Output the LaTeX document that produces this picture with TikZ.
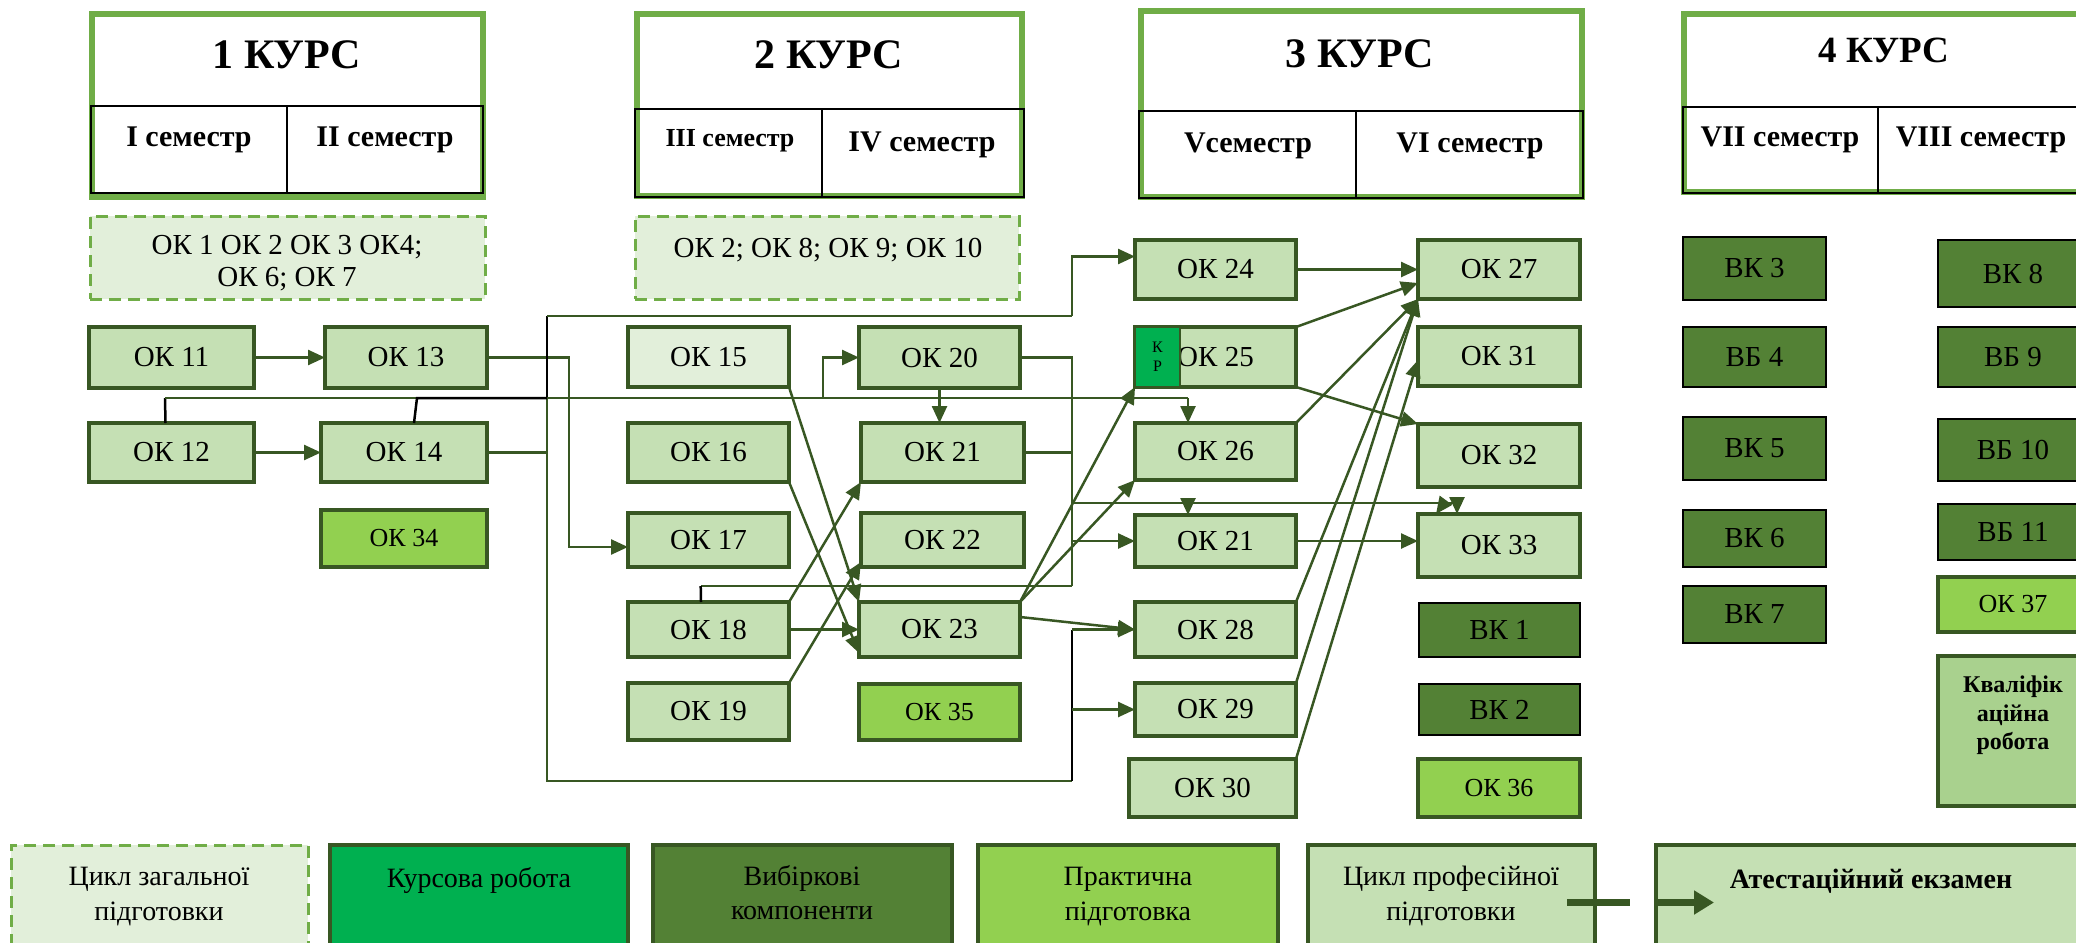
\documentclass[tikz,border=0pt]{standalone}
\usepackage{fontspec}
\setmainfont{Liberation Serif}
\usetikzlibrary{arrows.meta,calc}
\definecolor{okfill}{HTML}{C5E0B4}
\definecolor{dk}{HTML}{385723}
\definecolor{hdr}{HTML}{70AD47}
\definecolor{genfill}{HTML}{E2EFDA}
\definecolor{gendraw}{HTML}{70AD47}
\definecolor{vkfill}{HTML}{538135}
\definecolor{prfill}{HTML}{92D050}
\definecolor{krfill}{HTML}{00B050}
\definecolor{qwfill}{HTML}{A9D18E}
\newcommand{\okfont}{\fontsize{29}{33}\selectfont}
\newcommand{\lgfont}{\fontsize{28}{32}\selectfont}
\newcommand{\prfont}{\fontsize{26}{30}\selectfont}
\newcommand{\krfont}{\fontsize{16}{19}\selectfont}
\newcommand{\ttlfont}{\fontsize{42}{48}\selectfont\bfseries}
\newcommand{\ttlfontb}{\fontsize{37}{42}\selectfont\bfseries}
\newcommand{\semfont}{\fontsize{30}{34}\selectfont\bfseries}
\newcommand{\semfontb}{\fontsize{26}{30}\selectfont\bfseries}
\newcommand{\qwfont}{\fontsize{24}{28.5}\selectfont\bfseries}
\newcommand{\bxat}[7]{\node[#1, minimum width={#5-#3}, minimum height={#6-#4}] (#2) at ({(#3+#5)/2},{(#4+#6)/2}) {#7};}
\begin{document}
\begin{tikzpicture}[x=1pt,y=-1pt,
 every node/.style={inner sep=0pt, outer sep=0pt},
 okbox/.style={draw=dk, line width=4pt, fill=okfill, font=\okfont},
 lightbox/.style={okbox, fill=genfill},
 prbox/.style={okbox, fill=prfill, font=\prfont},
 vkbox/.style={draw=black, line width=2pt, fill=vkfill, font=\okfont},
 krbox/.style={draw=dk, line width=2pt, fill=krfill, font=\krfont, align=center},
 qwbox/.style={draw=dk, line width=4pt, fill=qwfill},
 genbox/.style={draw=gendraw, fill=genfill, line width=3pt, dash pattern=on 12pt off 7pt},
 hdrbox/.style={draw=hdr, fill=white, line width=6pt},
 semcell/.style={draw=black, line width=2pt},
 lgbox/.style={draw=dk, line width=4pt},
 con/.style={draw=dk, line width=2.5pt},
 arr/.style={con, -{Triangle[length=17pt,width=15pt]}},
 blk/.style={draw=black, line width=2.5pt},
 txt/.style={anchor=base, font=\okfont},
 ltx/.style={anchor=base, font=\lgfont},
]
\useasboundingbox (0,0) rectangle (2076,942);
\clip (0,0) rectangle (2076,942);

% ---------- headers ----------
\bxat{hdrbox}{h1}{92}{14}{483}{197}{}
\bxat{semcell}{s1}{91}{106}{286.5}{193}{}
\bxat{semcell}{s2}{286.5}{106}{483}{193}{}
\node[anchor=base, font=\ttlfont] (t1) at (287,68) {1 КУРС};
\node[anchor=base, font=\semfont] (l1) at (189,146) {I семестр};
\node[anchor=base, font=\semfont] (l2) at (385,146) {II семестр};

\bxat{hdrbox}{h2}{637}{14}{1022}{196}{}
\bxat{semcell}{s3}{635}{109}{822}{197}{}
\bxat{semcell}{s4}{822}{109}{1024}{197}{}
\node[anchor=base, font=\ttlfont] (t2) at (829,68) {2 КУРС};
\node[anchor=base, font=\semfontb] (l3) at (730,146) {III семестр};
\node[anchor=base, font=\semfont] (l4) at (922,151) {IV семестр};

\bxat{hdrbox}{h3}{1141}{11}{1582}{197}{}
\bxat{semcell}{s5}{1139}{111}{1356}{198}{}
\bxat{semcell}{s6}{1356}{111}{1583}{198}{}
\node[anchor=base, font=\ttlfont] (t3) at (1360,67) {3 КУРС};
\node[anchor=base, font=\semfont] (l5) at (1248,152) {Vсеместр};
\node[anchor=base, font=\semfont] (l6) at (1470,152) {VI семестр};

\bxat{hdrbox}{h4}{1684}{14}{2090}{192}{}
\bxat{semcell}{s7}{1683}{107}{1878}{193}{}
\bxat{semcell}{s8}{1878}{107}{2090}{193}{}
\node[anchor=base, font=\ttlfontb] (t4) at (1884,63) {4 КУРС};
\node[anchor=base, font=\semfont] (l7) at (1780,146) {VII семестр};
\node[anchor=base, font=\semfont] (l8) at (1981,146) {VIII семестр};

% ---------- general cycle boxes ----------
\bxat{genbox}{g1}{90}{216}{485}{299}{}
\node[txt] (g1a) at (287,254) {ОК 1 ОК 2 ОК 3 ОК4;};
\node[txt] (g1b) at (287,286) {ОК 6; ОК 7};
\bxat{genbox}{g2}{635}{216}{1019}{299}{}
\node[txt] (g2a) at (828,257) {ОК 2; ОК 8; ОК 9; ОК 10};

% ---------- course boxes ----------
\bxat{okbox}{ok11}{89}{327}{254}{388}{ОК 11}
\bxat{okbox}{ok12}{89}{423}{254}{482}{ОК 12}
\bxat{okbox}{ok13}{325}{327}{487}{388}{ОК 13}
\bxat{okbox}{ok14}{321}{423}{487}{482}{ОК 14}
\bxat{prbox}{ok34}{321}{510}{487}{567}{ОК 34}
\bxat{lightbox}{ok15}{628}{327}{789}{387}{ОК 15}
\bxat{okbox}{ok16}{628}{423}{789}{482}{ОК 16}
\bxat{okbox}{ok17}{628}{513}{789}{567}{ОК 17}
\bxat{okbox}{ok18}{628}{602}{789}{657}{ОК 18}
\bxat{okbox}{ok19}{628}{683}{789}{740}{ОК 19}
\bxat{okbox}{ok20}{859}{327}{1020}{388}{ОК 20}
\bxat{okbox}{ok21}{861}{423}{1024}{482}{ОК 21}
\bxat{okbox}{ok22}{861}{513}{1024}{567}{ОК 22}
\bxat{okbox}{ok23}{859}{602}{1020}{657}{ОК 23}
\bxat{prbox}{ok35}{859}{684}{1020}{740}{ОК 35}
\bxat{okbox}{ok24}{1135}{240}{1296}{299}{ОК 24}
\bxat{okbox}{ok25}{1135}{327}{1296}{387}{ОК 25}
\bxat{krbox}{kr}{1135}{327}{1180}{387}{К\\Р}
\bxat{okbox}{ok26}{1135}{423}{1296}{480}{ОК 26}
\bxat{okbox}{ok21b}{1135}{515}{1296}{567}{ОК 21}
\bxat{okbox}{ok28}{1135}{602}{1296}{657}{ОК 28}
\bxat{okbox}{ok29}{1135}{683}{1296}{736}{ОК 29}
\bxat{okbox}{ok30}{1129}{759}{1296}{817}{ОК 30}
\bxat{okbox}{ok27}{1418}{240}{1580}{299}{ОК 27}
\bxat{okbox}{ok31}{1418}{327}{1580}{386}{ОК 31}
\bxat{okbox}{ok32}{1418}{424}{1580}{487}{ОК 32}
\bxat{okbox}{ok33}{1418}{514}{1580}{577}{ОК 33}
\bxat{vkbox}{vk1}{1419}{603}{1580}{657}{ВК 1}
\bxat{vkbox}{vk2}{1419}{684}{1580}{735}{ВК 2}
\bxat{prbox}{ok36}{1418}{759}{1580}{817}{ОК 36}
\bxat{vkbox}{vk3}{1683}{237}{1826}{300}{ВК 3}
\bxat{vkbox}{vb4}{1683}{327}{1826}{387}{ВБ 4}
\bxat{vkbox}{vk5}{1683}{417}{1826}{480}{ВК 5}
\bxat{vkbox}{vk6}{1683}{510}{1826}{567}{ВК 6}
\bxat{vkbox}{vk7}{1683}{586}{1826}{643}{ВК 7}
\bxat{vkbox}{vk8}{1938}{240}{2088}{307}{ВК 8}
\bxat{vkbox}{vb9}{1938}{327}{2088}{387}{ВБ 9}
\bxat{vkbox}{vb10}{1938}{419}{2088}{481}{ВБ 10}
\bxat{vkbox}{vb11}{1938}{504}{2088}{560}{ВБ 11}
\bxat{prbox}{ok37}{1938}{577}{2088}{632}{ОК 37}
\bxat{qwbox}{qw}{1938}{656}{2088}{806}{}
\node[font=\qwfont, align=center, anchor=north] (qwt) at (2013,676) {Кваліфік\\аційна\\робота};

% ---------- connectors ----------
\coordinate (lpTL) at (547,316);
\coordinate (lpBL) at (547,781);
\coordinate (lpBR) at (1072,781);
\coordinate (lpTR) at (1072,316);
\coordinate (bT) at (1072,357.5);
\coordinate (bB) at (1072,586);
\coordinate (c17) at (569,357.5);
\coordinate (r12) at (165,398);
\coordinate (r14) at (417,398);
\coordinate (rL) at (547,398);
\coordinate (rE) at (1188,398);
\coordinate (r20) at (823,398);
\coordinate (b18) at (700.7,586);
\coordinate (m1) at (1072,503);
\coordinate (m2) at (1462,503);

\draw[arr] (ok11) -- (ok13);
\draw[arr] (ok12) -- (ok14);
\draw[arr] (ok13.east) -- (c17) |- ($(ok17.west)+(0,7)$);
\draw[con] (ok14.east) -- (ok14.east -| lpTL);

\draw[blk] (lpTL) -- (rL);
\draw[con] (rL) -- (lpBL) -- (lpBR);
\draw[con] (lpTL) -- (lpTR);
\draw[arr] (lpTR) |- ($(ok24.west)+(0,-13)$);
\draw[blk] (lpBR) -- (lpBR |- ok28.west);
\draw[arr] (lpBR |- ok28.west) -- (ok28.west);
\draw[arr] (lpBR |- ok29.west) -- (ok29.west);

\draw[blk] ($(ok12.north)+(-6,0)$) -- (r12);
\draw[con] (r12) -- (rE);
\draw[arr] (rE) -- ($(ok26.north west)+(53,0)$);
\draw[blk] ($(ok14.north)+(10,0)$) -- (r14) -- (rL);
\draw[arr] (r20) |- (ok20.west);

\draw[arr] (ok20.south) -- (ok20.south |- ok21.north);
\draw[con] (ok20.east) -- (bT) -- (bB);
\draw[con] (ok21.east) -- (ok21.east -| bT);
\draw[con] (bB) -- (b18);
\draw[blk] (b18) -- ($(ok18.north west)+(73,0)$);
\draw[con] (m1) -- (m2);
\draw[arr] (m1 -| rE) -- ($(ok21b.north west)+(53,0)$);
\draw[arr] (1444,503) -- ($(ok33.north west)+(18,0)$);
\draw[arr] (1457,503) -- ($(ok33.north west)+(39,0)$);
\draw[arr] (ok21b.west -| bT) -- (ok21b.west);
\draw[arr] (ok21b.east) -- (ok21b.east -| ok33.west);

\draw[arr] (ok24) -- (ok27);
\draw[arr] (ok25.north east) -- ($(ok27.south west)+(0,-16)$);
\draw[arr] (ok25.south east) -- (ok32.north west);
\draw[arr] (ok26.north east) -- (ok27.south west);
\draw[arr] (ok28.north east) -- (ok27.south west);
\draw[arr] (ok29.north east) -- (ok27.south west);
\draw[arr] (ok30.north east) -- ($(ok31.south west)+(0,-26)$);
\draw[arr] (ok23.north east) -- (ok25.south west);
\draw[arr] (ok23.north east) -- (ok26.south west);
\draw[arr] ($(ok23.north east)+(0,15)$) -- (ok28.west);
\draw[arr] (ok15.south east) -- (ok23.north west);
\draw[arr] (ok16.south east) -- ($(ok23.south west)+(0,-4)$);
\draw[arr] (ok18.north east) -- (ok21.south west);
\draw[arr] (ok19.north east) -- ($(ok22.south west)+(0,-5)$);
\draw[arr] (ok18.east) -- (ok18.east -| ok23.west);

% ---------- legend ----------
\bxat{genbox}{lg1}{11}{845}{308}{960}{}
\bxat{lgbox, fill=krfill}{lg2}{330}{845}{628}{960}{}
\bxat{lgbox, fill=vkfill}{lg3}{653}{845}{952}{960}{}
\bxat{lgbox, fill=prfill}{lg4}{978}{845}{1278}{960}{}
\bxat{lgbox, fill=okfill}{lg5}{1308}{845}{1595}{960}{}
\bxat{lgbox, fill=okfill}{lg6}{1656}{845}{2090}{960}{}
\node[ltx] (lt1a) at (159,885) {Цикл загальної};
\node[ltx] (lt1b) at (159,920) {підготовки};
\node[ltx] (lt2) at (479,887) {Курсова робота};
\node[ltx] (lt3a) at (802,885) {Вибіркові};
\node[ltx] (lt3b) at (802,919) {компоненти};
\node[ltx] (lt4a) at (1128,885) {Практична};
\node[ltx] (lt4b) at (1128,920) {підготовка};
\node[ltx] (lt5a) at (1451,885) {Цикл професійної};
\node[ltx] (lt5b) at (1451,920) {підготовки};
\node[ltx, font=\lgfont\bfseries] (lt6) at (1871,888) {Атестаційний екзамен};
\draw[draw=dk, line width=7pt] ($(lg5.east)+(-28,0)$) -- ($(lg5.east)+(35,0)$);
\draw[draw=dk, line width=7pt, -{Triangle[length=20pt,width=23pt]}] (lg6.west) -- ($(lg6.west)+(58,0)$);
\end{tikzpicture}
\end{document}
